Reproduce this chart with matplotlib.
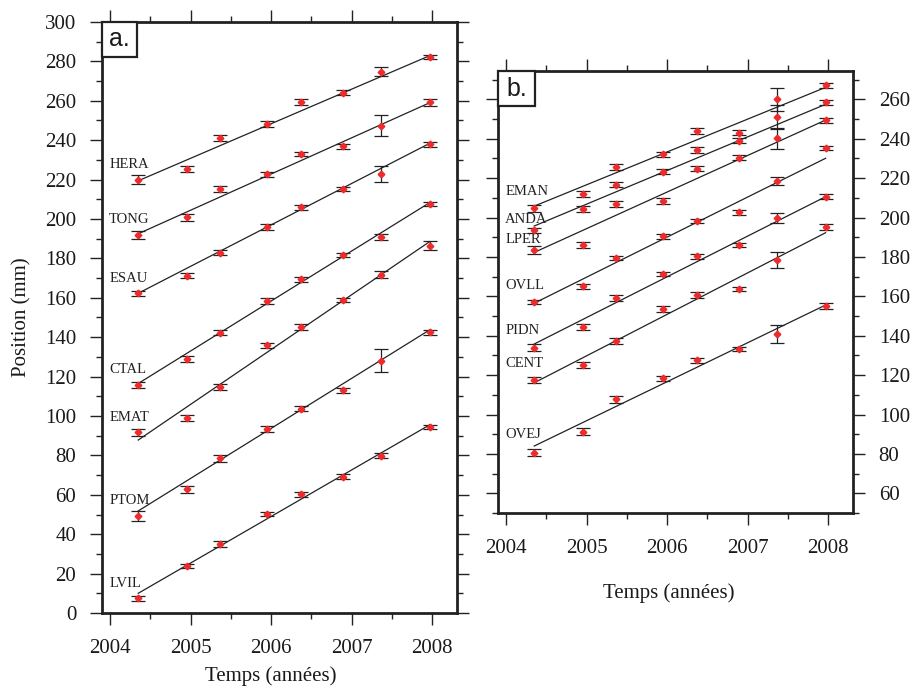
import matplotlib
matplotlib.use('Agg')
import matplotlib.pyplot as plt
from matplotlib.patches import Rectangle
from matplotlib.ticker import MultipleLocator

plt.rcParams['font.family'] = ['Liberation Serif', 'DejaVu Serif']

# epochs of the campaigns (decimal years)
epochs = [2004.35, 2004.95, 2005.37, 2005.95, 2006.37, 2006.89, 2007.36, 2007.97]

# panel a: positions (mm) and 1-sigma errors
stations_a = ['HERA', 'TONG', 'ESAU', 'CTAL', 'EMAT', 'PTOM', 'LVIL']
hera = [220.0, 225.4, 241.0, 248.2, 259.2, 264.1, 274.8, 282.1]
tong = [191.9, 200.8, 215.2, 222.7, 233.0, 236.9, 247.4, 259.2]
esau = [162.3, 171.2, 182.9, 195.9, 205.9, 215.1, 222.8, 238.0]
ctal = [115.7, 128.9, 142.3, 158.4, 169.4, 181.6, 191.0, 207.6]
emat = [91.7, 99.1, 114.6, 135.9, 145.3, 158.9, 171.6, 186.5]
ptom = [49.2, 62.8, 78.5, 93.4, 103.6, 113.0, 128.1, 142.5]
lvil = [7.4, 23.9, 35.0, 50.3, 60.2, 69.2, 79.9, 94.6]
hera_err = [2.4, 1.6, 1.5, 1.7, 1.5, 1.2, 2.2, 1.0]
tong_err = [2.0, 1.7, 1.6, 1.4, 1.2, 1.3, 5.5, 1.7]
esau_err = [1.2, 1.3, 1.2, 1.4, 1.2, 1.1, 4.2, 1.3]
ctal_err = [1.5, 1.5, 1.3, 1.3, 1.3, 1.1, 1.6, 1.2]
emat_err = [1.9, 1.4, 1.4, 1.4, 1.4, 1.2, 1.8, 2.1]
ptom_err = [2.6, 1.7, 1.6, 1.4, 1.3, 1.2, 5.7, 1.3]
lvil_err = [1.2, 1.1, 1.4, 1.2, 1.1, 1.2, 1.3, 1.0]
# linear trend: value at first and last epoch
trend_a_start = [219.4, 192.5, 162.3, 116.5, 87.8, 51.8, 10.0]
trend_a_end = [282.9, 259.0, 238.4, 208.3, 188.5, 143.7, 95.5]

# panel b
stations_b = ['EMAN', 'ANDA', 'LPER', 'OVLL', 'PIDN', 'CENT', 'OVEJ']
eman = [204.7, 212.0, 225.5, 232.1, 243.9, 243.1, 260.0, 267.1]
anda = [193.5, 204.5, 216.7, 223.3, 234.4, 239.0, 251.2, 258.5]
lper = [183.5, 186.0, 206.9, 208.4, 224.8, 230.4, 240.2, 249.3]
ovll = [157.0, 165.2, 179.6, 190.6, 198.2, 202.6, 218.5, 235.4]
pidn = [133.9, 144.3, 159.3, 171.3, 180.3, 186.0, 199.7, 210.6]
cent = [117.5, 125.0, 137.3, 153.6, 160.7, 163.6, 178.3, 195.2]
ovej = [80.6, 91.3, 107.7, 118.4, 127.5, 133.2, 140.9, 155.2]
eman_err = [1.7, 1.6, 1.6, 1.4, 1.4, 1.2, 5.9, 1.3]
anda_err = [1.4, 1.5, 1.4, 1.4, 1.4, 1.3, 6.0, 1.4]
lper_err = [2.0, 1.6, 1.5, 1.3, 1.4, 1.2, 5.3, 1.4]
ovll_err = [1.1, 1.3, 1.1, 1.3, 1.2, 1.2, 1.9, 1.1]
pidn_err = [1.8, 1.5, 1.6, 1.2, 1.3, 0.9, 2.5, 1.2]
cent_err = [1.5, 1.5, 1.3, 1.4, 1.3, 1.0, 4.0, 1.4]
ovej_err = [1.8, 1.7, 1.7, 1.4, 1.4, 1.0, 4.8, 1.4]
trend_b_start = [205.8, 195.7, 182.3, 156.5, 135.8, 116.1, 84.0]
trend_b_end = [266.1, 257.5, 249.5, 230.1, 210.6, 192.3, 155.6]

series_a = [hera, tong, esau, ctal, emat, ptom, lvil]
errors_a = [hera_err, tong_err, esau_err, ctal_err, emat_err, ptom_err, lvil_err]
series_b = [eman, anda, lper, ovll, pidn, cent, ovej]
errors_b = [eman_err, anda_err, lper_err, ovll_err, pidn_err, cent_err, ovej_err]

# vertical offset of the station name above its first point
label_off_a = [7.7] * 7
label_off_b = [8.4, 5.6, 5.5, 8.7, 8.5, 8.5, 9.0]


def style_axis(ax, ylim, right_labels=False):
    ax.set_xlim(2003.9, 2008.31)
    ax.set_ylim(*ylim)
    ax.xaxis.set_major_locator(MultipleLocator(1))
    ax.xaxis.set_minor_locator(MultipleLocator(0.5))
    ax.yaxis.set_major_locator(MultipleLocator(20))
    ax.yaxis.set_minor_locator(MultipleLocator(10))
    ax.tick_params(which='both', direction='out', top=True, right=True,
                   width=1.0, color='#222222', labelsize=15, labelcolor='#1a1a1a')
    ax.tick_params(which='major', length=8.5, pad=10)
    ax.tick_params(which='minor', length=4)
    if right_labels:
        ax.tick_params(axis='y', labelleft=False, labelright=True)
    for sp in ax.spines.values():
        sp.set_linewidth(2.0)
        sp.set_color('#222222')
    ax.set_xlabel('Temps (années)', fontsize=15, color='#1a1a1a')


def draw_panel(ax, series, errors, names, t_start, t_end, offsets):
    for vals, errs, name, y0, y1, off in zip(series, errors, names, t_start, t_end, offsets):
        ax.errorbar(epochs, vals, yerr=errs, fmt='none', ecolor='#222222',
                    elinewidth=0.9, capsize=4.8, capthick=0.9, zorder=2)
        ax.plot([epochs[0], epochs[-1]], [y0, y1], color='#222222', lw=0.9, zorder=3)
        ax.plot(epochs, vals, 'D', color='#ee2a2a', ms=3.4, mec='#ee2a2a', zorder=4)
        ax.text(2003.99, vals[0] + off, name, fontsize=10.5, va='center', ha='left',
                color='#222222')


def panel_tag(ax, tag, w_px, h_px):
    bbox = ax.get_position()
    fw, fh = ax.figure.get_size_inches() * ax.figure.dpi
    w = w_px / (bbox.width * fw)
    h = h_px / (bbox.height * fh)
    ax.add_patch(Rectangle((0, 1 - h), w, h, transform=ax.transAxes, fc='white',
                           ec='#222222', lw=1.6, zorder=5, clip_on=False))
    ax.text(w / 2, 1 - h / 2, tag, transform=ax.transAxes, fontsize=18,
            family=['Liberation Sans', 'DejaVu Sans'], ha='center', va='center',
            color='#1a1a1a', zorder=6)


fig = plt.figure(figsize=(9.11, 6.88), dpi=100, facecolor='white')
ax_a = fig.add_axes([102 / 911, 75 / 688, 355 / 911, 591 / 688])
ax_b = fig.add_axes([498 / 911, 175 / 688, 355 / 911, 442 / 688])

draw_panel(ax_a, series_a, errors_a, stations_a, trend_a_start, trend_a_end, label_off_a)
style_axis(ax_a, (0, 300))
ax_a.set_ylabel('Position (mm)', fontsize=15, labelpad=10, color='#1a1a1a')
ax_a.xaxis.set_label_coords((271 - 102) / 355, -0.09)
panel_tag(ax_a, 'a.', 35, 35)

draw_panel(ax_b, series_b, errors_b, stations_b, trend_b_start, trend_b_end, label_off_b)
style_axis(ax_b, (50, 274.4), right_labels=True)
ax_b.xaxis.set_label_coords((669 - 498) / 355, -0.158)
panel_tag(ax_b, 'b.', 37, 35)

fig.savefig('out.png', dpi=100)
